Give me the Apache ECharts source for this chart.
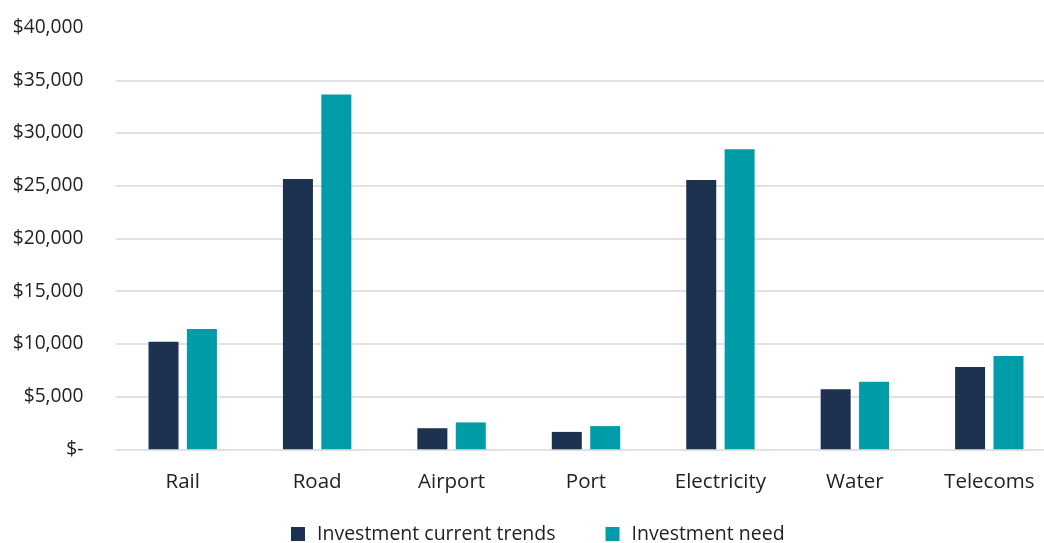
<!DOCTYPE html>
<html>
<head>
<meta charset="utf-8">
<script src="https://cdn.jsdelivr.net/npm/echarts@6/dist/echarts.min.js"></script>
<style>html,body{margin:0;padding:0;background:#fff;}#chart{width:1044px;height:543px;}</style>
</head>
<body>
<div id="chart"></div>
<script>
const categories = ['Rail', 'Road', 'Airport', 'Port', 'Electricity', 'Water', 'Telecoms'];
const currentTrends = [10200, 25650, 2000, 1650, 25550, 5700, 7800];
const investmentNeed = [11400, 33650, 2550, 2200, 28450, 6400, 8850];
const seriesNames = ['Investment current trends', 'Investment need'];

const FONT = 'Open Sans';
const chart = echarts.init(document.getElementById('chart'));
chart.setOption({
  animation: false,
  textStyle: { fontFamily: FONT },
  grid: { left: 115.5, top: 27.6, right: -12.5, bottom: 93.7, containLabel: false, outerBoundsMode: 'none' },
  legend: {
    left: 286, top: 519,
    itemWidth: 14, itemHeight: 14, itemGap: 50,
    icon: 'rect',
    textStyle: { fontFamily: FONT, fontSize: 19.5, color: '#222', padding: [0, 0, 0, 7] },
    data: seriesNames
  },
  xAxis: {
    type: 'category',
    data: categories,
    axisLine: { show: false },
    axisTick: { show: false },
    axisLabel: { fontFamily: FONT, fontSize: 20.5, color: '#222', margin: 22 }
  },
  yAxis: {
    type: 'value',
    min: 0, max: 40000, interval: 5000,
    axisLine: { show: false },
    axisTick: { show: false },
    splitLine: { lineStyle: { color: ['#d9d9d9','#d9d9d9','#d9d9d9','#d9d9d9','#d9d9d9','#d9d9d9','#d9d9d9','#d9d9d9','rgba(0,0,0,0)'], width: 1.6 } },
    axisLabel: {
      fontFamily: FONT, fontSize: 19.2, color: '#222', margin: 32,
      formatter: v => v === 0 ? '$-' : '$' + v.toLocaleString('en-US')
    }
  },
  series: [
    { name: seriesNames[0], type: 'bar', data: currentTrends, barWidth: 30, barGap: '28%',
      itemStyle: { color: '#1D3251' } },
    { name: seriesNames[1], type: 'bar', data: investmentNeed, barWidth: 30, barGap: '28%',
      itemStyle: { color: '#009DA8' } }
  ]
});
</script>
</body>
</html>
